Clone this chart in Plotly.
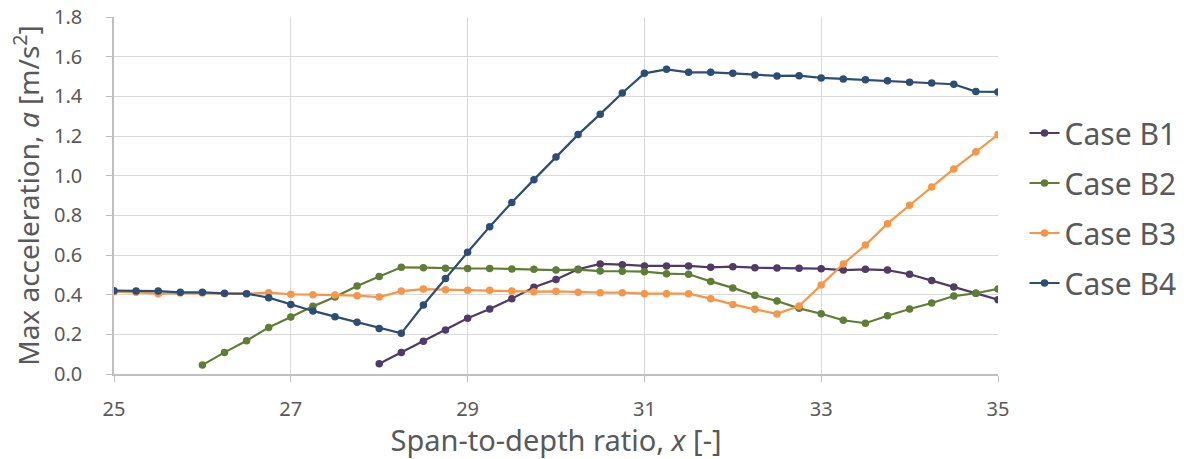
import plotly.graph_objects as go

x_all = [25 + 0.25 * i for i in range(41)]

b1_x = [28 + 0.25 * i for i in range(29)]
b1_y = [0.052, 0.109, 0.165, 0.222, 0.281, 0.328, 0.380, 0.437, 0.477, 0.528,
        0.555, 0.551, 0.545, 0.545, 0.545, 0.538, 0.541, 0.536, 0.535, 0.533,
        0.531, 0.524, 0.528, 0.524, 0.503, 0.471, 0.439, 0.407, 0.375]

b2_x = [26 + 0.25 * i for i in range(37)]
b2_y = [0.045, 0.109, 0.168, 0.235, 0.287, 0.341, 0.388, 0.444, 0.492, 0.538,
        0.536, 0.533, 0.532, 0.532, 0.530, 0.528, 0.524, 0.526, 0.519, 0.518,
        0.516, 0.506, 0.503, 0.467, 0.434, 0.397, 0.368, 0.331, 0.304, 0.271,
        0.256, 0.294, 0.328, 0.358, 0.393, 0.407, 0.429]

b3_x = x_all
b3_y = [0.415, 0.412, 0.405, 0.408, 0.408, 0.405, 0.404, 0.410, 0.402, 0.400,
        0.398, 0.395, 0.388, 0.418, 0.428, 0.425, 0.422, 0.422, 0.419, 0.415,
        0.417, 0.412, 0.410, 0.410, 0.405, 0.405, 0.405, 0.380, 0.351, 0.326,
        0.303, 0.343, 0.449, 0.555, 0.650, 0.758, 0.851, 0.943, 1.034, 1.120,
        1.207]

b4_x = x_all
b4_y = [0.420, 0.418, 0.418, 0.412, 0.412, 0.407, 0.405, 0.385, 0.351, 0.318,
        0.289, 0.261, 0.230, 0.205, 0.348, 0.482, 0.614, 0.743, 0.865, 0.980,
        1.094, 1.207, 1.310, 1.417, 1.516, 1.536, 1.521, 1.521, 1.516, 1.508,
        1.503, 1.504, 1.493, 1.488, 1.483, 1.479, 1.471, 1.467, 1.461, 1.424,
        1.422]

names = ["Case B1", "Case B2", "Case B3", "Case B4"]
colors = ["#4f3b66", "#5f7d34", "#f79646", "#2c4d75"]
series = [(b1_x, b1_y), (b2_x, b2_y), (b3_x, b3_y), (b4_x, b4_y)]

x_ticks = [25, 27, 29, 31, 33, 35]
y_ticks = [0.0, 0.2, 0.4, 0.6, 0.8, 1.0, 1.2, 1.4, 1.6, 1.8]

FONT = "Noto Sans"
GRAY = "#595959"

fig = go.Figure()
for i in range(4):
    xs, ys = series[i]
    fig.add_trace(go.Scatter(
        x=xs, y=ys, name=names[i], mode="lines+markers",
        line=dict(color=colors[i], width=2.2),
        marker=dict(color=colors[i], size=7.5),
        legendgroup=names[i],
    ))

fig.update_layout(
    width=1184, height=459,
    margin=dict(l=114, r=186, t=17, b=85, autoexpand=False),
    paper_bgcolor="white", plot_bgcolor="white",
    font=dict(family=FONT, color=GRAY, size=20),
    showlegend=True,
    legend=dict(
        x=1.03, y=0.465, xanchor="left", yanchor="middle",
        font=dict(size=30, color=GRAY, family=FONT),
        tracegroupgap=8, traceorder="grouped",
        itemwidth=30,
    ),
)

fig.update_xaxes(
    range=[25, 35], tickvals=x_ticks, ticktext=[str(v) for v in x_ticks],
    showgrid=True, gridcolor="#d9d9d9", gridwidth=1,
    showline=True, linecolor="#bfbfbf", linewidth=1.5,
    ticks="outside", ticklen=6, tickcolor="#bfbfbf",
    tickfont=dict(size=20, color=GRAY), ticklabelstandoff=10,
    title=dict(text="Span-to-depth ratio, <i>x</i> [-]", font=dict(size=29, color=GRAY), standoff=4),
    zeroline=False, automargin=False,
)
fig.update_yaxes(
    range=[0, 1.8], tickvals=y_ticks, ticktext=[f"{v:.1f}" for v in y_ticks],
    showgrid=True, gridcolor="#d9d9d9", gridwidth=1,
    showline=True, linecolor="#bfbfbf", linewidth=1.5,
    ticks="outside", ticklen=6, tickcolor="#bfbfbf",
    tickfont=dict(size=20, color=GRAY), ticklabelstandoff=20,
    title=dict(text="Max acceleration, <i>a</i> [m/s<sup>2</sup>]", font=dict(size=28, color=GRAY), standoff=6),
    zeroline=False, automargin=False,
)

fig.write_html("out.html")
